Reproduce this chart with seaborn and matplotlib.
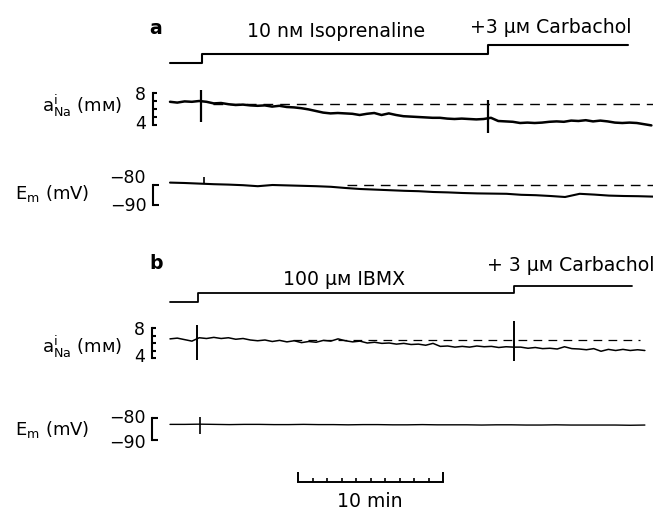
import numpy as np
import pandas as pd
import matplotlib
matplotlib.use("Agg")
import matplotlib.pyplot as plt
import seaborn as sns

# ---------------- data ----------------
# Panel a: 10 nM isoprenaline, then +3 uM carbachol
a_na_values = [6.9, 6.8, 6.95, 6.9, 7.0, 6.9, 6.7, 6.75, 6.6, 6.5,
               6.55, 6.45, 6.4, 6.45, 6.3, 6.4, 6.25, 6.2, 6.1, 5.95,
               5.75, 5.55, 5.45, 5.5, 5.45, 5.4, 5.25, 5.4, 5.5, 5.25,
               5.45, 5.25, 5.1, 5.05, 5.0, 4.95, 4.9, 4.9, 4.8, 4.75,
               4.8, 4.75, 4.7, 4.75, 4.9, 4.5, 4.45, 4.4, 4.25, 4.3,
               4.25, 4.3, 4.4, 4.45, 4.4, 4.55, 4.5, 4.6, 4.45, 4.55,
               4.45, 4.3, 4.25, 4.3, 4.25, 4.1, 3.95]            # mM
a_na_span = (0.0, 33.2)                                            # min
a_em_values = [-78.8, -79.0, -79.3, -79.6, -79.8, -80.1, -80.6, -80.0, -80.2, -80.4,
               -80.6, -80.9, -81.5, -82.0, -82.3, -82.6, -82.9, -83.1, -83.5, -83.7,
               -84.0, -84.2, -84.3, -84.4, -84.9, -85.1, -85.5, -86.0, -84.4, -84.8,
               -85.3, -85.5, -85.6, -85.8]                          # mV
a_em_span = (0.0, 33.3)
a_protocol_time = [0.0, 2.2, 21.93, 31.6]
a_protocol_level = [0, 1, 2, 2]
a_na_ref = (6.6, 3.0, 33.3)      # level, start, end (dashed)
a_em_ref = (-80.0, 12.2, 33.3)
a_na_artifacts = [(2.14, 8.4, 4.4), (21.93, 7.1, 3.0)]   # time, top, bottom
a_em_artifacts = [(2.34, -75.8, -79.2)]

# Panel b: 100 uM IBMX, then +3 uM carbachol
b_na_values = [6.55, 6.65, 6.45, 6.25, 6.7, 6.6, 6.75, 6.6, 6.7, 6.5,
               6.6, 6.4, 6.3, 6.4, 6.2, 6.35, 6.15, 6.3, 6.05, 6.2,
               6.1, 6.35, 6.25, 6.55, 6.3, 6.15, 6.25, 6.0, 6.1, 5.95,
               6.0, 5.85, 5.95, 5.8, 5.85, 5.7, 5.95, 5.55, 5.6, 5.45,
               5.55, 5.45, 5.6, 5.5, 5.55, 5.4, 5.5, 5.45, 5.45, 5.3,
               5.4, 5.25, 5.3, 5.2, 5.5, 5.25, 5.2, 5.1, 5.25, 4.9,
               5.15, 5.0, 5.15, 5.0, 5.1, 5.0]
b_na_span = (0.0, 32.75)
b_em_values = [-82.9, -82.9, -82.8, -82.9, -83.0, -82.9, -82.9, -83.0, -83.0, -82.9,
               -83.0, -83.0, -83.1, -83.0, -83.0, -83.1, -83.1, -83.0, -83.1, -83.1,
               -83.1, -83.2, -83.1, -83.1, -83.2, -83.2, -83.1, -83.2, -83.2, -83.2,
               -83.2, -83.3, -83.2]
b_em_span = (0.0, 32.75)
b_protocol_time = [0.0, 1.93, 23.72, 31.86]
b_protocol_level = [0, 1, 1.8, 1.8]
b_na_ref = (6.4, 8.5, 32.4)
b_na_artifacts = [(1.86, 8.4, 3.75), (23.72, 8.9, 3.6)]
b_em_artifacts = [(2.07, -79.4, -87.3)]

na_scale_ticks = [4, 5, 6, 7, 8]
em_scale_ticks = [-90, -80]
scale_bar_minutes = 10
scale_bar_start = 8.83

a_drug1 = "10 n\u043c Isoprenaline"
a_drug2 = "+3 \u03bc\u043c Carbachol"
b_drug1 = "100 \u03bc\u043c IBMX"
b_drug2 = "+ 3 \u03bc\u043c Carbachol"
na_label = r"$\mathregular{a^{i}_{Na}}$" + " (m\u043c)"
em_label = r"$\mathregular{E_{m}}$" + " (mV)"

# ---------------- layout ----------------
sns.set_style("white")
plt.rcParams["font.family"] = ["DejaVu Sans"]
plt.rcParams["mathtext.default"] = "regular"
plt.rcParams["text.color"] = "black"

W, H = 653, 511
fig = plt.figure(figsize=(W / 100, H / 100), dpi=100)
PX_PER_MIN = 14.5
X0_PX = 170
AX_L, AX_R = 100, 653


def add_row(top, bottom, pa, va, pb, vb):
    ax = fig.add_axes([AX_L / W, 1 - bottom / H, (AX_R - AX_L) / W, (bottom - top) / H])
    ax.set_xlim((AX_L - X0_PX) / PX_PER_MIN, (AX_R - X0_PX) / PX_PER_MIN)
    slope = (vb - va) / (pb - pa)
    ax.set_ylim(va + (bottom - pa) * slope, va + (top - pa) * slope)
    for s in ax.spines.values():
        s.set_visible(False)
    ax.set_xticks([])
    ax.set_yticks([])
    ax.patch.set_alpha(0)
    return ax


def finish(ax):
    ax.set_xlabel("")
    ax.set_ylabel("")
    leg = ax.get_legend()
    if leg:
        leg.remove()


def bracket(ax, x_px, ticks, ticklen):
    sp = ax.spines["left"]
    sp.set_visible(True)
    sp.set_position(("data", (x_px - X0_PX) / PX_PER_MIN))
    sp.set_bounds(min(ticks), max(ticks))
    sp.set_linewidth(1.5)
    sp.set_color("black")
    ax.set_yticks(ticks)
    ax.tick_params(axis="y", left=True, direction="in", length=ticklen, width=1.5,
                   labelleft=False, color="black")


def trace(ax, values, span, lw):
    t = np.linspace(span[0], span[1], len(values))
    df = pd.DataFrame({"t": t, "v": values})
    sns.lineplot(data=df, x="t", y="v", ax=ax, color="black", lw=lw,
                 estimator=None, sort=False)
    finish(ax)


def protocol(ax, times, levels, lw):
    df = pd.DataFrame({"t": times, "v": levels})
    sns.lineplot(data=df, x="t", y="v", ax=ax, color="black", lw=lw,
                 estimator=None, sort=False, drawstyle="steps-post")
    finish(ax)


def reference(ax, ref, lw):
    level, t0, t1 = ref
    ax.hlines(level, t0, t1, colors="black", lw=lw, linestyles=(0, (7, 5)))


def artifacts(ax, arts, lw):
    for t, top, bot in arts:
        ax.vlines(t, bot, top, colors="black", lw=lw)


def ftext(x, y, s, **kw):
    fig.text(x / W, 1 - y / H, s, color="black", **kw)


FS = 13.6
LFS = 13
TFS = 12.5

# ---- panel a ----
ax = add_row(35, 70, 63, 0, 54, 1)
protocol(ax, a_protocol_time, a_protocol_level, 1.5)

ax = add_row(80, 140, 93, 8, 125, 4)
reference(ax, a_na_ref, 1.0)
trace(ax, a_na_values, a_na_span, 1.8)
artifacts(ax, a_na_artifacts, 1.6)
bracket(ax, 153, na_scale_ticks, 2.8)

ax = add_row(165, 215, 185, -80, 205, -90)
reference(ax, a_em_ref, 1.0)
trace(ax, a_em_values, a_em_span, 1.5)
artifacts(ax, a_em_artifacts, 1.2)
bracket(ax, 153, em_scale_ticks, 4.5)

# ---- panel b ----
ax = add_row(275, 310, 302, 0, 293, 1)
protocol(ax, b_protocol_time, b_protocol_level, 1.3)

ax = add_row(315, 372, 328, 8, 358, 4)
reference(ax, b_na_ref, 0.9)
trace(ax, b_na_values, b_na_span, 1.1)
artifacts(ax, b_na_artifacts, 1.4)
bracket(ax, 152, na_scale_ticks, 2.8)

ax = add_row(405, 452, 418, -80, 440, -90)
trace(ax, b_em_values, b_em_span, 1.0)
artifacts(ax, b_em_artifacts, 1.2)
bracket(ax, 152, em_scale_ticks, 4.5)

# ---- time scale bar ----
ax = add_row(455, 482, 455, 1, 482, 0)
sp = ax.spines["bottom"]
sp.set_visible(True)
sp.set_bounds(scale_bar_start, scale_bar_start + scale_bar_minutes)
sp.set_linewidth(1.4)
sp.set_color("black")
ax.set_xticks([scale_bar_start, scale_bar_start + scale_bar_minutes])
ax.set_xticks([scale_bar_start + m for m in range(1, scale_bar_minutes)], minor=True)
ax.tick_params(axis="x", which="major", bottom=True, direction="in", length=7,
               width=1.4, labelbottom=False, color="black")
ax.tick_params(axis="x", which="minor", bottom=True, direction="in", length=3,
               width=1.2, labelbottom=False, color="black")

# ---- texts ----
ftext(156, 29, "a", fontsize=FS, fontweight="bold", ha="center", va="center")
ftext(247, 31, a_drug1, fontsize=FS, ha="left", va="center")
ftext(470, 27, a_drug2, fontsize=FS, ha="left", va="center")
ftext(156, 263, "b", fontsize=FS, fontweight="bold", ha="center", va="center")
ftext(283, 279, b_drug1, fontsize=FS, ha="left", va="center")
ftext(487, 265, b_drug2, fontsize=FS, ha="left", va="center")

ftext(42, 106, na_label, fontsize=LFS, ha="left", va="center")
ftext(15, 193, em_label, fontsize=LFS, ha="left", va="center")
ftext(42, 347, na_label, fontsize=LFS, ha="left", va="center")
ftext(15, 429, em_label, fontsize=LFS, ha="left", va="center")

ftext(146, 95, "8", fontsize=TFS, ha="right", va="center")
ftext(146, 124, "4", fontsize=TFS, ha="right", va="center")
ftext(146, 178, "\u221280", fontsize=TFS, ha="right", va="center")
ftext(147, 206, "\u221290", fontsize=TFS, ha="right", va="center")
ftext(145, 330, "8", fontsize=TFS, ha="right", va="center")
ftext(145, 357, "4", fontsize=TFS, ha="right", va="center")
ftext(146, 418, "\u221280", fontsize=TFS, ha="right", va="center")
ftext(146, 443, "\u221290", fontsize=TFS, ha="right", va="center")

ftext(370, 501, "10 min", fontsize=FS, ha="center", va="center")

fig.savefig("out.png", dpi=100)
